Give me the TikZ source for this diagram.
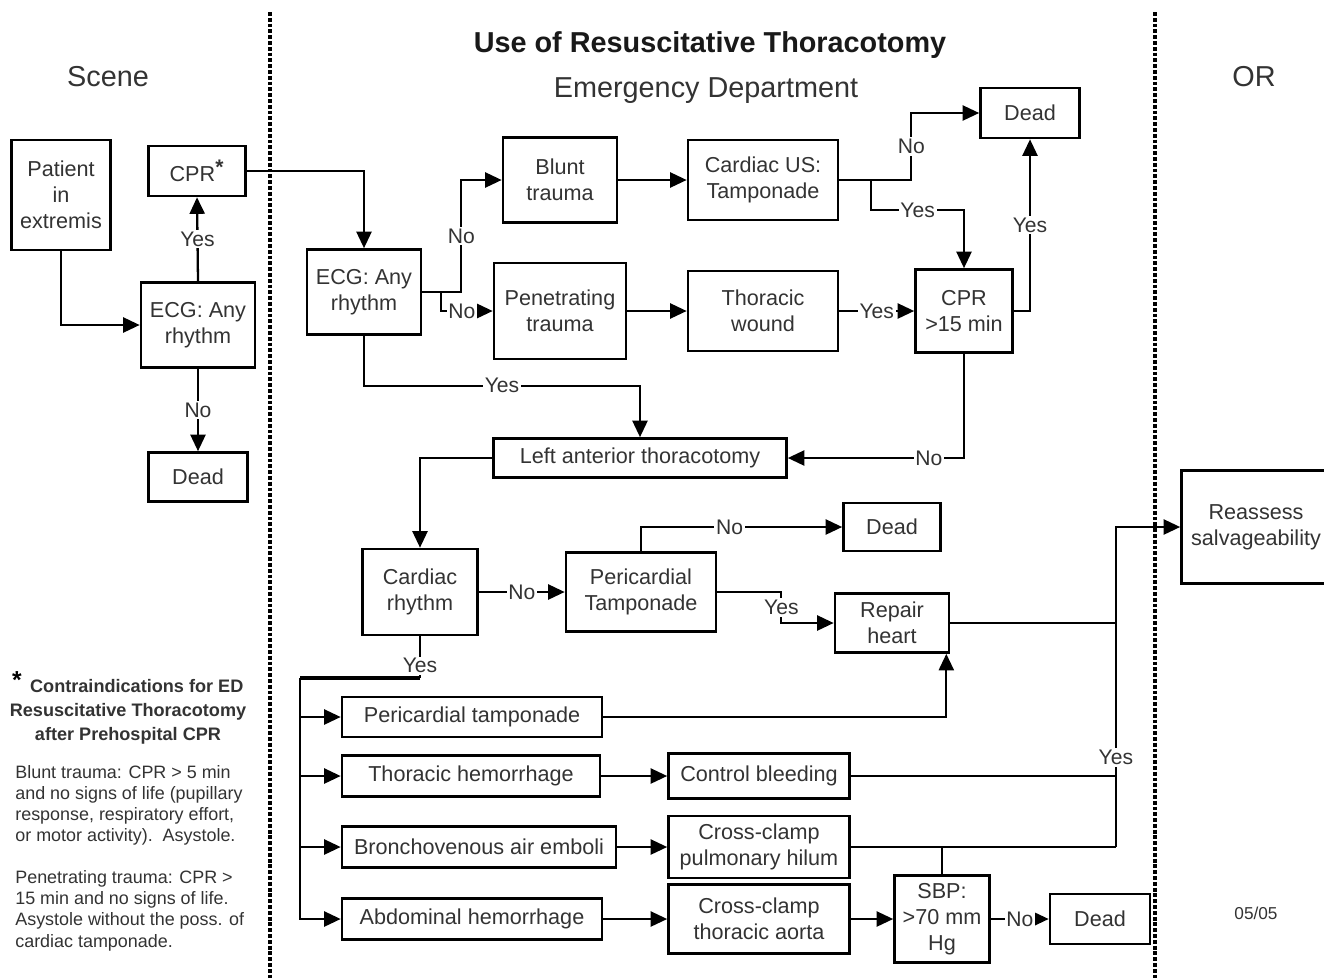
\documentclass[tikz,border=0pt]{standalone}
\usepackage{fontspec}
\setmainfont{Liberation Sans}
\usetikzlibrary{arrows.meta}

\begin{document}
\begin{tikzpicture}[x=0.2mm, y=-0.2mm,
    kasten/.style 2 args={draw, line width=1.5pt, align=center, inner sep=0pt,
      minimum width=#1*0.2mm, minimum height=#2*0.2mm, text=black!80,
      font=\fontsize{12.3}{14.8}\selectfont},
    lbl/.style={fill=white, inner sep=1pt, text=black!80, font=\fontsize{12}{14}\selectfont},
    pfeil/.style={line width=1.3pt, -{Triangle[length=3.3mm,width=3mm]}},
    linie/.style={line width=1.3pt},
    trenn/.style={line width=2.1pt, dash pattern=on 2.2pt off 1.1pt},
    titel/.style={text=black!80, font=\fontsize{16.4}{20}\selectfont}]

    % Rahmen
    \fill[white] (0,0) rectangle (1324,978);
    \useasboundingbox (0,0) rectangle (1324,978);

    % Trennlinien
    \draw[trenn] (270,12) -- (270,978);
    \draw[trenn] (1155,12) -- (1155,978);

    % Ueberschriften
    \node[titel] (scene) at (108,77) {Scene};
    \node[titel, text=black!90, font=\bfseries\fontsize{16.4}{20}\selectfont] (title) at (710,45) {Use of Resuscitative Thoracotomy};
    \node[titel] (ed) at (706,91) {Emergency Department};
    \node[titel] (or) at (1254,77) {OR};

    % Szene
    \node[kasten={99}{110}] (pat) at (61,195) {Patient\\in\\extremis};
    \node[kasten={97}{50}] (cprS) at (197,171) {CPR\textsuperscript{\bfseries\large *}};
    \node[kasten={114}{85}] (ekgS) at (198,325) {ECG: Any\\rhythm};
    \node[kasten={99}{49}] (totS) at (198,477) {Dead};

    \draw[pfeil] (pat.south) |- (ekgS.west);
    \draw[pfeil] (ekgS.north) -- node[lbl]{Yes} (cprS.south);
    \draw[pfeil] (ekgS.south) -- node[lbl]{No} (totS.north);

    % Notaufnahme
    \node[kasten={114}{85}] (ekgN) at (364,292) {ECG: Any\\rhythm};
    \node[kasten={114}{85}] (stumpf) at (560,180) {Blunt\\trauma};
    \node[kasten={150}{80}] (echo) at (763,180) {Cardiac US:\\Tamponade};
    \node[kasten={99}{50}] (tot1) at (1030,113) {Dead};
    \node[kasten={132}{96}] (pen) at (560,311) {Penetrating\\trauma};
    \node[kasten={150}{80}] (wunde) at (763,311) {Thoracic\\wound};
    \node[kasten={97}{83}] (cpr15) at (964,311) {CPR\\>15 min};
    \node[kasten={293}{39}] (lat) at (640,458) {Left anterior thoracotomy};
    \node[kasten={115}{86}] (rhy) at (420,592) {Cardiac\\rhythm};
    \node[kasten={150}{79}] (peri) at (641,592) {Pericardial\\Tamponade};
    \node[kasten={97}{48}] (tot2) at (892,527) {Dead};
    \node[kasten={114}{59}] (rep) at (892,623) {Repair\\heart};

    \draw[pfeil] (cprS.east) -| (ekgN.north);
    \draw[pfeil] (ekgN.east) -- ++(39,0) |- node[lbl,pos=0.25]{No} (stumpf.west);
    \draw[pfeil] (ekgN.east) -- ++(19,0) |- node[lbl,pos=0.7]{No} (pen.west);
    \draw[pfeil] (stumpf) -- (echo);
    \draw[pfeil] (echo.east) -- ++(72,0) |- node[lbl,pos=0.25]{No} (tot1.west);
    \draw[pfeil] (echo.east) -- ++(32,0) -- ++(0,30) -| node[lbl,pos=0.25]{Yes} (cpr15.north);
    \draw[pfeil] (pen) -- (wunde);
    \draw[pfeil] (wunde) -- node[lbl]{Yes} (cpr15);
    \draw[pfeil] (cpr15.east) -| node[lbl,pos=0.75]{Yes} (tot1.south);
    \draw[pfeil] (cpr15.south) |- node[lbl,pos=0.6]{No} (lat.east);
    \draw[pfeil] (ekgN.south) -- ++(0,50) -| node[lbl,pos=0.25]{Yes} (lat.north);
    \draw[pfeil] (lat.west) -| (rhy.north);
    \draw[pfeil] (rhy) -- node[lbl]{No} (peri);
    \draw[pfeil] (peri.north) |- node[lbl,pos=0.72]{No} (tot2.west);
    \draw[pfeil] (peri.east) -- ++(64,0) |- node[lbl,pos=0.25]{Yes} (rep.west);

    % Eingriffe
    \node[kasten={260}{40}] (pt) at (472,717) {Pericardial tamponade};
    \node[kasten={258}{41}] (th) at (471,776) {Thoracic hemorrhage};
    \node[kasten={274}{41}] (bro) at (479,847) {Bronchovenous air emboli};
    \node[kasten={260}{41}] (abd) at (472,919) {Abdominal hemorrhage};
    \node[kasten={181}{45}] (cb) at (759,776) {Control bleeding};
    \node[kasten={181}{62}] (hil) at (759,847) {Cross-clamp\\pulmonary hilum};
    \node[kasten={181}{69}] (ao) at (759,919) {Cross-clamp\\thoracic aorta};
    \node[kasten={95}{87}] (sbp) at (942,919) {SBP:\\>70 mm\\Hg};
    \node[kasten={100}{50}] (tot3) at (1100,919) {Dead};

    \draw[linie] (rhy.south) -- node[lbl,pos=0.7]{Yes} ++(0,42) coordinate (y);
    \draw[linie, line width=2.2pt] (y) -- ++(-120,0) coordinate (v);
    \foreach \n in {pt,th,bro,abd}
        \draw[pfeil] (v) |- (\n.west);
    \draw[pfeil] (pt.east) -| ([xshift=-0.8mm]rep.south east);
    \draw[pfeil] (th) -- (cb);
    \draw[pfeil] (bro) -- (hil);
    \draw[pfeil] (abd) -- (ao);
    \draw[pfeil] (ao) -- (sbp);
    \draw[pfeil] (sbp) -- node[lbl]{No} (tot3);

    % OP
    \node[kasten={149}{113}] (reas) at (1256,527) {Reassess\\salvageability};

    \draw[linie] (hil.east) -- ++(265,0) coordinate (s);
    \draw[linie] (sbp.north) -- (sbp.north |- hil.east);
    \draw[linie] (cb.east) -- (cb.east -| s);
    \draw[linie] (rep.east) -- (rep.east -| s);
    \draw[pfeil] (s) |- node[lbl,pos=0.14]{Yes} (reas.west);

    % Fussnote
    \node[text=black, font=\bfseries\fontsize{14}{14}\selectfont] (stern) at (17,680) {*};
    \node[align=center, text=black!80, font=\bfseries\fontsize{10.3}{13.6}\selectfont] (kontra) at (128,712)
        {\hspace*{3.5mm}Contraindications for ED\\Resuscitative Thoracotomy\\after Prehospital CPR};
    \node[anchor=north west, align=left, inner sep=0pt, text=black!80, font=\fontsize{10.2}{12}\selectfont] (text) at (15,765)
        {Blunt trauma: CPR > 5 min\\and no signs of life (pupillary\\response, respiratory effort,\\or motor activity).\ \ Asystole.\\[12pt]%
         Penetrating trauma: CPR >\\15 min and no signs of life.\\Asystole without the poss. of\\cardiac tamponade.};
    \node[text=black!80, font=\fontsize{9.8}{12}\selectfont] (datum) at (1256,913) {05/05};

\end{tikzpicture}
\end{document}
